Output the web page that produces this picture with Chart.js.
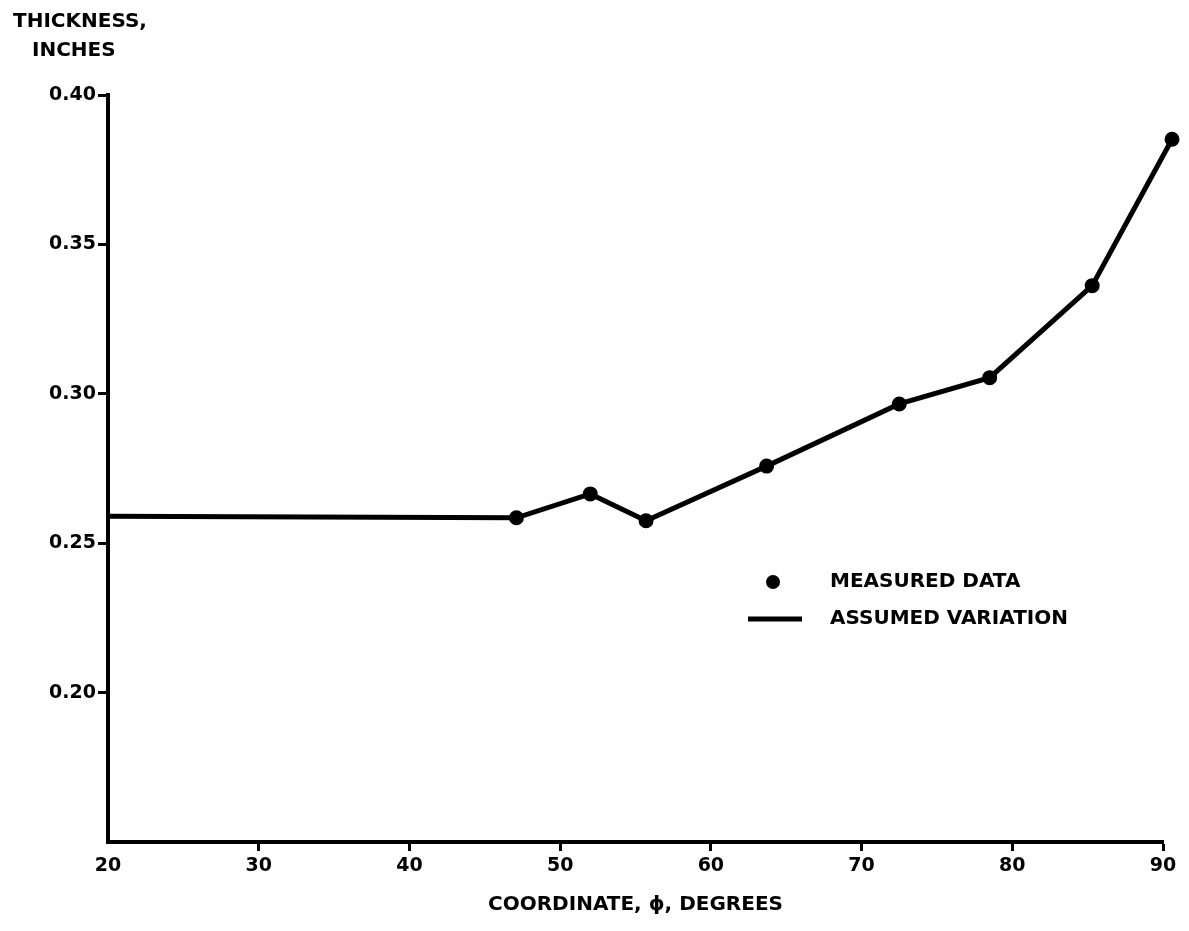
<!DOCTYPE html>
<html>
<head>
<meta charset="utf-8">
<script src="https://cdn.jsdelivr.net/npm/chart.js@4"></script>
<style>
  html, body { margin: 0; padding: 0; background: #fff; }
  canvas { display: block; }
</style>
</head>
<body>
<canvas id="thicknessChart" width="1189" height="931"></canvas>
<script>
// measured points
const measuredPhi = [47.1, 52.0, 55.7, 63.7, 72.5, 78.5, 85.3, 90.6];
const measuredThickness = [0.2585, 0.2665, 0.2575, 0.2758, 0.2966, 0.3054, 0.3362, 0.3852];

// assumed variation: flat from 20 deg, then through the measured points
const assumedPhi = [20, 47.1, 52.0, 55.7, 63.7, 72.5, 78.5, 85.3, 90.6];
const assumedThickness = [0.259, 0.2585, 0.2665, 0.2575, 0.2758, 0.2966, 0.3054, 0.3362, 0.3852];

const xTicks = [20, 30, 40, 50, 60, 70, 80, 90];
const yTicks = [0.20, 0.25, 0.30, 0.35, 0.40];

const yTitle = ['THICKNESS,', 'INCHES'];
const xTitle = 'COORDINATE, \u03D5, DEGREES';
const seriesLabels = ['MEASURED DATA', 'ASSUMED VARIATION'];

const ink = '#000';
const family = '"DejaVu Sans", "Liberation Sans", sans-serif';

const toPoints = (xs, ys) => xs.map((x, i) => ({ x: x, y: ys[i] }));

const annotations = {
    id: 'annotations',
    afterDraw(chart) {
        const ctx = chart.ctx;
        const sets = chart.data.datasets;
        ctx.save();
        ctx.fillStyle = ink;
        ctx.strokeStyle = ink;
        ctx.font = 'bold 20px ' + family;
        ctx.textBaseline = 'middle';
        ctx.textAlign = 'left';

        // y axis title, top left
        ctx.fillText(yTitle[0], 13, 22);
        ctx.fillText(yTitle[1], 32, 51);

        // legend
        ctx.beginPath();
        ctx.arc(773, 582, 7, 0, Math.PI * 2);
        ctx.fill();
        ctx.fillText(sets[0].label, 830, 582);

        ctx.lineWidth = 5;
        ctx.beginPath();
        ctx.moveTo(748, 619);
        ctx.lineTo(802, 619);
        ctx.stroke();
        ctx.fillText(sets[1].label, 830, 619);
        ctx.restore();
    },
};

const canvas = document.getElementById('thicknessChart');

new Chart(canvas, {
    type: 'scatter',
    data: {
        datasets: [
            {
                label: seriesLabels[0],
                data: toPoints(measuredPhi, measuredThickness),
                showLine: false,
                // radius + thick border so the last point (just past 90) still gets drawn
                pointRadius: 5,
                pointBorderWidth: 5,
                pointBackgroundColor: ink,
                pointBorderColor: ink,
                clip: false,
            },
            {
                label: seriesLabels[1],
                data: toPoints(assumedPhi, assumedThickness),
                showLine: true,
                borderColor: ink,
                borderWidth: 5,
                pointRadius: 0,
                tension: 0,
                clip: false,
            },
        ],
    },
    options: {
        responsive: false,
        animation: false,
        layout: { padding: { top: 95, right: 26, left: 0, bottom: 0 } },
        plugins: {
            legend: { display: false },
            tooltip: { enabled: false },
        },
        scales: {
            x: {
                type: 'linear',
                min: 20,
                max: 90,
                afterBuildTicks(scale) {
                    scale.ticks = xTicks.map(v => ({ value: v }));
                },
                afterFit(scale) { scale.height = 89; },
                ticks: {
                    color: ink,
                    font: { family: family, size: 19, weight: 'bold' },
                    padding: 4,
                    maxRotation: 0,
                    callback: v => String(v),
                },
                grid: {
                    drawOnChartArea: false,
                    tickLength: 9,
                    tickColor: c => (c.tick && c.tick.value === 20 ? 'rgba(0,0,0,0)' : ink),
                    tickWidth: 3,
                },
                border: { color: ink, width: 4 },
                title: {
                    display: true,
                    text: xTitle,
                    color: ink,
                    font: { family: family, size: 20, weight: 'bold' },
                    padding: { top: 0, bottom: 14 },
                },
            },
            y: {
                min: 0.15,
                max: 0.40,
                afterBuildTicks(scale) {
                    scale.ticks = yTicks.map(v => ({ value: v }));
                },
                afterFit(scale) { scale.width = 108; },
                ticks: {
                    color: ink,
                    font: { family: family, size: 19, weight: 'bold' },
                    padding: 2,
                    callback: v => v.toFixed(2),
                },
                grid: {
                    drawOnChartArea: false,
                    tickLength: 10,
                    tickColor: ink,
                    tickWidth: 3,
                },
                border: { color: ink, width: 4 },
            },
        },
    },
    plugins: [annotations],
});
</script>
</body>
</html>
